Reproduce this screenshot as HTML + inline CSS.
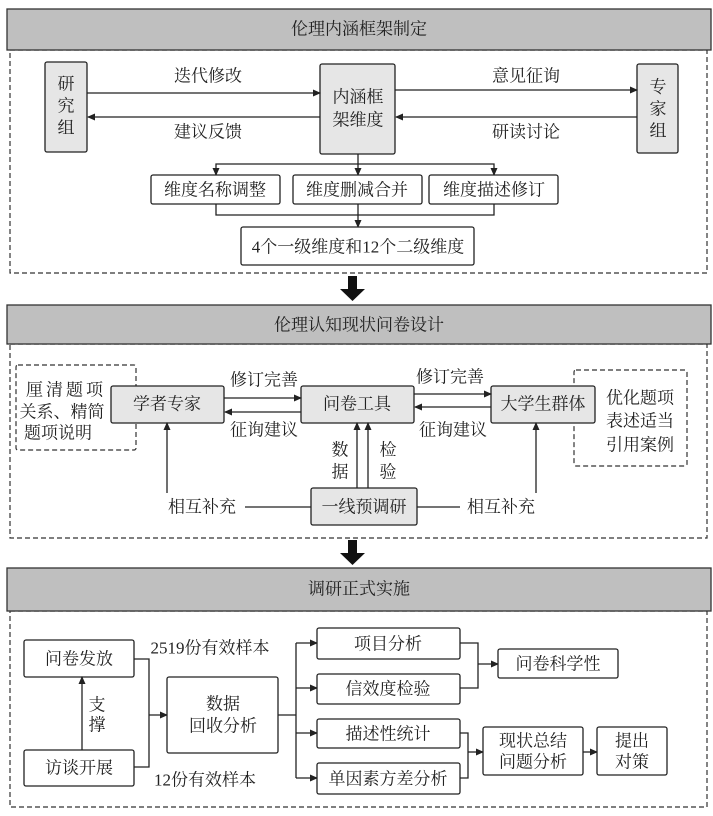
<!DOCTYPE html>
<html><head><meta charset="utf-8"><style>
html,body{margin:0;padding:0;background:#fff}
svg{display:block}
text{font-family:"Liberation Serif","Noto Serif CJK SC",serif;font-size:17px;fill:#222;text-anchor:middle;dominant-baseline:central}
.b{fill:#fff;stroke:#222;stroke-width:1.3}
.g{fill:#e6e6e6;stroke:#222;stroke-width:1.3}
.h{fill:#bfbfbf;stroke:#333;stroke-width:1.3}
.d{fill:none;stroke:#333;stroke-width:1.2;stroke-dasharray:5,3}
.l{fill:none;stroke:#222;stroke-width:1.3}
</style></head><body>
<svg width="713" height="816" viewBox="0 0 713 816">
<defs><marker id="a" markerWidth="8" markerHeight="8" refX="7" refY="4" orient="auto" markerUnits="userSpaceOnUse"><path d="M0,0.5 L8,4 L0,7.5z" fill="#222"/></marker></defs>

<!-- Section 1 -->
<rect class="d" x="10" y="50" width="697" height="223"/>
<rect class="h" x="7" y="9" width="704" height="41"/>
<text x="359" y="29">伦理内涵框架制定</text>
<rect class="g" x="45" y="62" width="42" height="90" rx="2"/>
<text x="66" y="84">研</text><text x="66" y="106">究</text><text x="66" y="128">组</text>
<rect class="g" x="320" y="64" width="75" height="90" rx="2"/>
<text x="358" y="97">内涵框</text><text x="358" y="120">架维度</text>
<rect class="g" x="637" y="64" width="41" height="89" rx="2"/>
<text x="658" y="87">专</text><text x="658" y="109">家</text><text x="658" y="131">组</text>
<line class="l" x1="87" y1="93" x2="320" y2="93" marker-end="url(#a)"/>
<line class="l" x1="320" y1="117" x2="88" y2="117" marker-end="url(#a)"/>
<line class="l" x1="395" y1="90" x2="637" y2="90" marker-end="url(#a)"/>
<line class="l" x1="637" y1="117" x2="396" y2="117" marker-end="url(#a)"/>
<text x="208" y="76">迭代修改</text><text x="208" y="132">建议反馈</text>
<text x="526" y="76">意见征询</text><text x="526" y="132">研读讨论</text>
<line class="l" x1="358" y1="154" x2="358" y2="175" marker-end="url(#a)"/>
<polyline class="l" points="216,175 216,164 494,164 494,175"/>
<line class="l" x1="216" y1="170" x2="216" y2="175" marker-end="url(#a)"/>
<line class="l" x1="494" y1="170" x2="494" y2="175" marker-end="url(#a)"/>
<rect class="b" x="151" y="175" width="129" height="29" rx="2"/><text x="215" y="190">维度名称调整</text>
<rect class="b" x="293" y="175" width="129" height="29" rx="2"/><text x="357" y="190">维度删减合并</text>
<rect class="b" x="429" y="175" width="129" height="29" rx="2"/><text x="494" y="190">维度描述修订</text>
<polyline class="l" points="216,204 216,215 494,215 494,204"/>
<line class="l" x1="358" y1="204" x2="358" y2="227" marker-end="url(#a)"/>
<rect class="b" x="241" y="227" width="233" height="38" rx="2"/><text x="358" y="247">4个一级维度和12个二级维度</text>

<rect x="348" y="276" width="9" height="14" fill="#111"/><path d="M340,289 L365,289 L352.5,301z" fill="#111"/>

<!-- Section 2 -->
<rect class="d" x="10" y="344" width="697" height="194"/>
<rect class="h" x="7" y="305" width="704" height="39"/>
<text x="359" y="325">伦理认知现状问卷设计</text>
<rect class="d" x="16" y="365" width="120" height="85" rx="2"/>
<text x="66" y="390" style="letter-spacing:3px">厘清题项</text><text x="62" y="412">关系、精简</text><text x="58" y="433">题项说明</text>
<rect class="d" x="574" y="370" width="113" height="96" rx="2"/>
<text x="640" y="398">优化题项</text><text x="640" y="421">表述适当</text><text x="640" y="445">引用案例</text>
<rect class="g" x="111" y="386" width="113" height="37" rx="2"/><text x="167" y="404">学者专家</text>
<rect class="g" x="301" y="386" width="113" height="37" rx="2"/><text x="357" y="404">问卷工具</text>
<rect class="g" x="491" y="386" width="104" height="37" rx="2"/><text x="543" y="404">大学生群体</text>
<line class="l" x1="224" y1="398" x2="301" y2="398" marker-end="url(#a)"/>
<line class="l" x1="301" y1="412" x2="225" y2="412" marker-end="url(#a)"/>
<line class="l" x1="414" y1="394" x2="491" y2="394" marker-end="url(#a)"/>
<line class="l" x1="491" y1="407" x2="415" y2="407" marker-end="url(#a)"/>
<text x="264" y="380">修订完善</text><text x="264" y="430">征询建议</text>
<text x="450" y="377">修订完善</text><text x="453" y="430">征询建议</text>
<rect class="g" x="311" y="488" width="106" height="37" rx="2"/><text x="364" y="507">一线预调研</text>
<line class="l" x1="357" y1="488" x2="357" y2="423" marker-end="url(#a)"/>
<line class="l" x1="368" y1="488" x2="368" y2="423" marker-end="url(#a)"/>
<text x="340" y="450">数</text><text x="340" y="472">据</text>
<text x="388" y="450">检</text><text x="388" y="472">验</text>
<line class="l" x1="245" y1="507" x2="311" y2="507"/>
<line class="l" x1="417" y1="507" x2="460" y2="507"/>
<text x="202" y="507">相互补充</text><text x="501" y="507">相互补充</text>
<line class="l" x1="167" y1="493" x2="167" y2="423" marker-end="url(#a)"/>
<line class="l" x1="536" y1="493" x2="536" y2="423" marker-end="url(#a)"/>

<rect x="348" y="540" width="9" height="14" fill="#111"/><path d="M340,553 L365,553 L352.5,565z" fill="#111"/>

<!-- Section 3 -->
<rect class="d" x="10" y="611" width="697" height="196"/>
<rect class="h" x="7" y="568" width="704" height="43"/>
<text x="359" y="589">调研正式实施</text>
<rect class="b" x="24" y="640" width="110" height="37" rx="2"/><text x="79" y="659">问卷发放</text>
<rect class="b" x="24" y="750" width="110" height="36" rx="2"/><text x="79" y="768">访谈开展</text>
<line class="l" x1="82" y1="750" x2="82" y2="677" marker-end="url(#a)"/>
<text x="97" y="705">支</text><text x="97" y="725">撑</text>
<polyline class="l" points="134,659 149,659 149,767 134,767"/>
<line class="l" x1="149" y1="715" x2="167" y2="715" marker-end="url(#a)"/>
<text x="210" y="648">2519份有效样本</text><text x="205" y="780">12份有效样本</text>
<rect class="b" x="167" y="677" width="111" height="76" rx="2"/><text x="223" y="704">数据</text><text x="223" y="726">回收分析</text>
<line class="l" x1="278" y1="715" x2="296" y2="715"/>
<line class="l" x1="296" y1="643" x2="296" y2="778"/>
<line class="l" x1="296" y1="643" x2="317" y2="643" marker-end="url(#a)"/>
<line class="l" x1="296" y1="688" x2="317" y2="688" marker-end="url(#a)"/>
<line class="l" x1="296" y1="733" x2="317" y2="733" marker-end="url(#a)"/>
<line class="l" x1="296" y1="778" x2="317" y2="778" marker-end="url(#a)"/>
<rect class="b" x="317" y="628" width="143" height="31" rx="2"/><text x="388" y="644">项目分析</text>
<rect class="b" x="317" y="674" width="143" height="30" rx="2"/><text x="388" y="689">信效度检验</text>
<rect class="b" x="317" y="719" width="143" height="29" rx="2"/><text x="388" y="734">描述性统计</text>
<rect class="b" x="317" y="763" width="143" height="31" rx="2"/><text x="388" y="779">单因素方差分析</text>
<polyline class="l" points="460,643 478,643 478,688 460,688"/>
<line class="l" x1="478" y1="664" x2="498" y2="664" marker-end="url(#a)"/>
<rect class="b" x="498" y="649" width="120" height="29" rx="2"/><text x="558" y="664">问卷科学性</text>
<polyline class="l" points="460,733 468,733 468,778 460,778"/>
<line class="l" x1="468" y1="752" x2="483" y2="752" marker-end="url(#a)"/>
<rect class="b" x="483" y="727" width="100" height="48" rx="2"/><text x="533" y="741">现状总结</text><text x="533" y="762">问题分析</text>
<line class="l" x1="583" y1="752" x2="597" y2="752" marker-end="url(#a)"/>
<rect class="b" x="597" y="727" width="70" height="48" rx="2"/><text x="632" y="741">提出</text><text x="632" y="762">对策</text>
</svg>
</body></html>
